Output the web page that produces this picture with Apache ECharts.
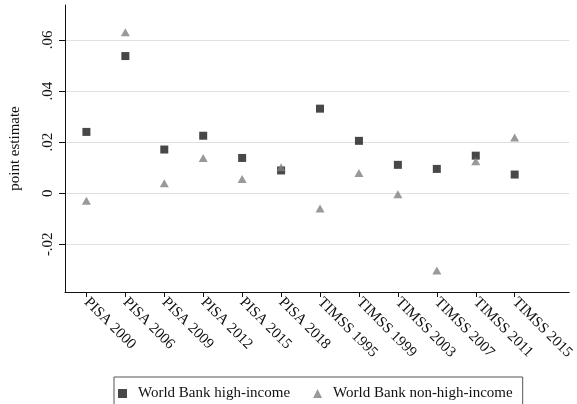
<!DOCTYPE html>
<html>
<head>
<meta charset="utf-8">
<script src="https://cdn.jsdelivr.net/npm/echarts@6/dist/echarts.min.js"></script>
<style>
  html, body { margin: 0; padding: 0; background: #fff; }
  #chart { width: 577px; height: 404px; }
</style>
</head>
<body>
<div id="chart"></div>
<script>
// Assessment waves along the x axis
const categories = ['PISA 2000', 'PISA 2006', 'PISA 2009', 'PISA 2012', 'PISA 2015', 'PISA 2018',
  'TIMSS 1995', 'TIMSS 1999', 'TIMSS 2003', 'TIMSS 2007', 'TIMSS 2011', 'TIMSS 2015'];

// Point estimates by country income group
const highIncome = [0.0240, 0.0537, 0.0171, 0.0225, 0.0138, 0.0089,
  0.0331, 0.0205, 0.0111, 0.0095, 0.0147, 0.0073];
const nonHighIncome = [-0.0030, 0.0630, 0.0039, 0.0138, 0.0056, 0.0102,
  -0.0060, 0.0079, -0.0004, -0.0303, 0.0125, 0.0218];

// Y axis ticks and their printed labels
const yTicks = [-0.02, 0, 0.02, 0.04, 0.06];
const yTickLabels = ['-.02', '0', '.02', '.04', '.06'];

const seriesNames = ['World Bank high-income', 'World Bank non-high-income'];

const font = '"Liberation Serif", "Times New Roman", serif';
const xPositions = categories.map((_, i) => i);

const chart = echarts.init(document.getElementById('chart'), null, { renderer: 'canvas' });
chart.setOption({
  animation: false,
  backgroundColor: '#ffffff',
  textStyle: { fontFamily: font },
  grid: { left: 63, right: 3.5, top: 5, bottom: 112, containLabel: false },
  legend: {
    left: 114,
    top: 377,
    itemGap: 23,
    itemWidth: 9,
    itemHeight: 9,
    padding: [9, 10, 9, 4],
    borderColor: '#555',
    borderWidth: 1,
    textStyle: { fontFamily: font, fontSize: 15, color: '#111', padding: [0, 0, 0, 6] },
    data: [
      { name: seriesNames[0], icon: 'rect', itemStyle: { color: '#1a1a1a' } },
      { name: seriesNames[1], icon: 'triangle', itemStyle: { color: '#808080' } }
    ]
  },
  xAxis: {
    type: 'value',
    min: -0.55,
    max: 12.4,
    splitLine: { show: false },
    axisLine: { show: true, onZero: false, lineStyle: { color: '#111', width: 1 } },
    axisTick: { show: true, length: 5, customValues: xPositions, lineStyle: { color: '#111' } },
    axisLabel: {
      customValues: xPositions,
      rotate: -45,
      margin: 8,
      fontFamily: font,
      fontSize: 15,
      color: '#111',
      formatter: v => categories[Math.round(v)] || ''
    }
  },
  yAxis: {
    type: 'value',
    min: -0.0387,
    max: 0.0737,
    name: 'point estimate',
    nameLocation: 'middle',
    nameGap: 42,
    nameRotate: 90,
    nameTextStyle: { fontFamily: font, fontSize: 15, color: '#111' },
    axisLine: { show: true, onZero: false, lineStyle: { color: '#111', width: 1 } },
    axisTick: { show: true, length: 6, customValues: yTicks, lineStyle: { color: '#111' } },
    splitLine: { show: true, lineStyle: { color: '#e0e0e0', width: 1 } },
    axisLabel: {
      customValues: yTicks,
      rotate: 90,
      margin: 9,
      fontFamily: font,
      fontSize: 15,
      color: '#111',
      formatter: v => {
        const idx = yTicks.findIndex(t => Math.abs(t - v) < 1e-9);
        return idx >= 0 ? yTickLabels[idx] : '';
      }
    }
  },
  series: [
    {
      name: seriesNames[0],
      type: 'scatter',
      symbol: 'rect',
      symbolSize: 8,
      itemStyle: { color: '#1a1a1a' },
      data: highIncome.map((v, i) => [i, v]),
      z: 3
    },
    {
      name: seriesNames[1],
      type: 'scatter',
      symbol: 'triangle',
      symbolSize: [9, 8],
      itemStyle: { color: '#808080' },
      data: nonHighIncome.map((v, i) => [i, v]),
      z: 4
    }
  ]
});
</script>
</body>
</html>
